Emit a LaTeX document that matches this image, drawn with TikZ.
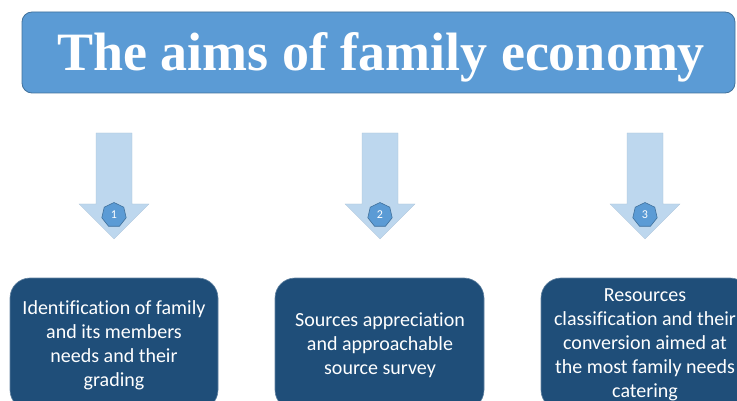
\documentclass[tikz,border=0pt]{standalone}
\usepackage{fontspec}
\setmainfont{Carlito}[Ligatures=NoCommon]
\newfontfamily\titlefont{Liberation Serif}
\usetikzlibrary{shapes.geometric}
\definecolor{titleblue}{HTML}{5B9BD5}
\definecolor{titleedge}{HTML}{41719C}
\definecolor{arrowblue}{HTML}{BDD7EE}
\definecolor{boxblue}{HTML}{1F4E79}
\tikzset{
  titlebox/.style={draw=titleedge, line width=0.8pt, fill=titleblue, rounded corners=10pt},
  downarrow/.style={fill=arrowblue, draw=arrowblue!90!black, line width=0.3pt},
  badge/.style={regular polygon, regular polygon sides=7, minimum size=25pt, inner sep=0pt,
    fill=titleblue, draw=titleedge, line width=0.6pt, text=white, font=\fontsize{12}{13}\selectfont},
  aimbox/.style={draw=boxblue!70!white, line width=0.6pt, fill=boxblue, rounded corners=20pt},
  aimtext/.style={text=white, align=center, font=\fontsize{20}{24}\selectfont, inner sep=0pt}
}
\begin{document}
\begin{tikzpicture}[x=1pt,y=-1pt]
\useasboundingbox (0,0) rectangle (737,401);
\clip (0,0) rectangle (737,401);
% title
\draw[titlebox] (22,12) rectangle (735,93);
\node[text=white, font=\titlefont\bfseries\fontsize{54}{54}\selectfont, inner sep=0pt, anchor=base] (title) at (381,71) {The aims of family economy};
% arrows
\foreach \cx/\n in {114/1,380/2,645/3}{
  \fill[downarrow] (\cx-18,133) -- (\cx+18,133) -- (\cx+18,204) -- (\cx+35,204) -- (\cx,239) -- (\cx-35,204) -- (\cx-18,204) -- cycle;
  \node[badge] (b\n) at (\cx,215) {\n};
}
% boxes
\draw[aimbox] (10,278) rectangle (218,410);
\node[aimtext] (t1) at (114,345) {Identification of family\\and its members\\needs and their\\grading};
\draw[aimbox] (275,278) rectangle (484,410);
\node[aimtext] (t2) at (380,345) {Sources appreciation\\and approachable\\source survey};
\draw[aimbox] (541,278) rectangle (750,410);
\node[aimtext] (t3) at (645,345) {Resources\\classification and their\\conversion aimed at\\the most family needs\\catering};
\end{tikzpicture}
\end{document}
